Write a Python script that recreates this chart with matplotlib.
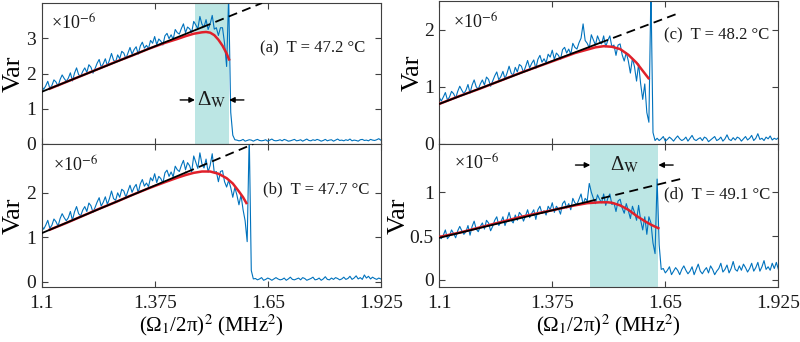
import matplotlib
matplotlib.use('Agg')
import matplotlib.pyplot as plt

plt.rcParams['font.family'] = ['Liberation Serif', 'DejaVu Serif']
plt.rcParams['mathtext.fontset'] = 'stix'

# ---------------
# Data
# ---------------

# sampling grid of the measured traces, (Omega_1/2pi)^2 in MHz^2
freq = [1.100, 1.105, 1.110, 1.115, 1.120, 1.125, 1.130, 1.135, 1.140, 1.145,
        1.150, 1.155, 1.160, 1.165, 1.170, 1.175, 1.180, 1.185, 1.190, 1.195,
        1.200, 1.205, 1.210, 1.215, 1.220, 1.225, 1.230, 1.235, 1.240, 1.245,
        1.250, 1.255, 1.260, 1.265, 1.270, 1.275, 1.280, 1.285, 1.290, 1.295,
        1.300, 1.305, 1.310, 1.315, 1.320, 1.325, 1.330, 1.335, 1.340, 1.345,
        1.350, 1.355, 1.360, 1.365, 1.370, 1.375, 1.380, 1.385, 1.390, 1.395,
        1.400, 1.405, 1.410, 1.415, 1.420, 1.425, 1.430, 1.435, 1.440, 1.445,
        1.450, 1.455, 1.460, 1.465, 1.470, 1.475, 1.480, 1.485, 1.490, 1.495,
        1.500, 1.505, 1.510, 1.515, 1.520, 1.525, 1.530, 1.535, 1.540, 1.545,
        1.550, 1.555, 1.560, 1.565, 1.570, 1.575, 1.580, 1.585, 1.590, 1.595,
        1.600, 1.605, 1.610, 1.615, 1.620, 1.625, 1.630, 1.635, 1.640, 1.645,
        1.650, 1.655, 1.660, 1.665, 1.670, 1.675, 1.680, 1.685, 1.690, 1.695,
        1.700, 1.705, 1.710, 1.715, 1.720, 1.725, 1.730, 1.735, 1.740, 1.745,
        1.750, 1.755, 1.760, 1.765, 1.770, 1.775, 1.780, 1.785, 1.790, 1.795,
        1.800, 1.805, 1.810, 1.815, 1.820, 1.825, 1.830, 1.835, 1.840, 1.845,
        1.850, 1.855, 1.860, 1.865, 1.870, 1.875, 1.880, 1.885, 1.890, 1.895,
        1.900, 1.905, 1.910, 1.915, 1.920, 1.925, 1.930, 1.935, 1.940, 1.945,
        1.950]

# measured variance (x1e-6)
var_a = [1.65, 1.55, 1.65, 1.78, 1.58, 1.66, 1.82, 1.76, 1.64, 1.83,
         1.96, 1.86, 1.78, 1.87, 2.02, 1.79, 2.01, 2.16, 1.97, 1.92,
         2.06, 2.16, 2.03, 2.25, 2.18, 2.01, 2.14, 2.29, 2.40, 2.18,
         2.28, 2.42, 2.22, 2.38, 2.57, 2.38, 2.33, 2.53, 2.42, 2.63,
         2.58, 2.42, 2.58, 2.74, 2.55, 2.68, 2.76, 2.55, 2.78, 2.89,
         2.72, 2.80, 2.71, 2.94, 2.86, 3.05, 2.82, 2.98, 2.92, 2.81,
         3.07, 3.14, 2.99, 3.10, 2.97, 3.25, 3.16, 3.12, 3.28, 3.41,
         3.16, 3.32, 3.27, 3.17, 3.48, 3.38, 3.27, 3.62, 3.40, 3.32,
         3.53, 3.25, 3.41, 3.65, 3.26, 3.30, 3.08, 3.30, 3.30, 2.85,
         2.20, 4.20, 0.90, 0.25, 0.12, 0.11, 0.09, 0.10, 0.13, 0.08,
         0.10, 0.12, 0.11, 0.08, 0.11, 0.13, 0.10, 0.09, 0.10, 0.12,
         0.08, 0.11, 0.14, 0.10, 0.09, 0.10, 0.12, 0.09, 0.13, 0.11,
         0.08, 0.09, 0.11, 0.13, 0.09, 0.10, 0.12, 0.08, 0.11, 0.14,
         0.10, 0.09, 0.12, 0.10, 0.13, 0.11, 0.08, 0.10, 0.13, 0.09,
         0.11, 0.12, 0.08, 0.11, 0.14, 0.10, 0.11, 0.09, 0.12, 0.10,
         0.14, 0.09, 0.11, 0.10, 0.08, 0.12, 0.13, 0.10, 0.11, 0.09,
         0.13, 0.11, 0.10, 0.12, 0.15, 0.11]

var_b = [1.27, 1.18, 1.27, 1.38, 1.20, 1.27, 1.41, 1.35, 1.25, 1.42,
         1.53, 1.44, 1.37, 1.44, 1.58, 1.38, 1.57, 1.69, 1.53, 1.48,
         1.61, 1.69, 1.58, 1.77, 1.71, 1.56, 1.67, 1.79, 1.89, 1.70,
         1.79, 1.91, 1.74, 1.87, 2.04, 1.87, 1.83, 2.00, 1.90, 2.08,
         2.04, 1.90, 2.04, 2.17, 2.01, 2.12, 2.19, 2.00, 2.20, 2.30,
         2.15, 2.22, 2.14, 2.34, 2.27, 2.43, 2.23, 2.37, 2.32, 2.22,
         2.45, 2.51, 2.37, 2.47, 2.36, 2.60, 2.52, 2.48, 2.62, 2.73,
         2.52, 2.68, 2.61, 2.47, 2.83, 2.69, 2.55, 2.90, 2.65, 2.56,
         2.76, 2.47, 2.62, 2.88, 2.45, 2.48, 2.25, 2.48, 2.50, 2.25,
         2.13, 2.28, 2.12, 1.90, 2.12, 1.95, 1.73, 1.95, 1.62, 1.37,
         0.90, 3.30, 0.25, 0.06, 0.07, 0.04, 0.06, 0.09, 0.03, 0.05,
         0.08, 0.06, 0.03, 0.06, 0.09, 0.06, 0.04, 0.05, 0.08, 0.03,
         0.06, 0.10, 0.05, 0.04, 0.06, 0.08, 0.04, 0.09, 0.07, 0.03,
         0.05, 0.07, 0.10, 0.04, 0.05, 0.08, 0.03, 0.06, 0.11, 0.05,
         0.04, 0.08, 0.05, 0.09, 0.07, 0.04, 0.06, 0.10, 0.05, 0.07,
         0.12, 0.05, 0.08, 0.13, 0.06, 0.09, 0.05, 0.15, 0.08, 0.12,
         0.06, 0.10, 0.07, 0.05, 0.08, 0.06]

var_c = [0.82, 0.75, 0.82, 0.90, 0.77, 0.82, 0.92, 0.88, 0.80, 0.92,
         1.01, 0.94, 0.88, 0.94, 1.04, 0.89, 1.03, 1.12, 1.00, 0.96,
         1.05, 1.12, 1.03, 1.17, 1.13, 1.01, 1.10, 1.19, 1.26, 1.12,
         1.18, 1.27, 1.14, 1.24, 1.36, 1.24, 1.20, 1.34, 1.26, 1.39,
         1.36, 1.25, 1.35, 1.46, 1.33, 1.41, 1.47, 1.32, 1.48, 1.55,
         1.43, 1.49, 1.42, 1.57, 1.52, 1.64, 1.48, 1.59, 1.55, 1.48,
         1.65, 1.69, 1.59, 1.66, 1.57, 1.76, 1.69, 1.66, 1.77, 1.85,
         2.10, 1.81, 1.76, 1.68, 1.91, 1.82, 1.73, 1.89, 1.80, 1.75,
         1.89, 1.70, 1.81, 1.89, 1.70, 1.73, 1.55, 1.73, 1.75, 1.56,
         1.45, 1.60, 1.45, 1.24, 1.50, 1.35, 1.10, 1.40, 1.05, 0.78,
         1.05, 0.55, 0.38, 2.70, 0.20, 0.06, 0.10, 0.06, 0.09, 0.13,
         0.05, 0.08, 0.12, 0.09, 0.05, 0.10, 0.14, 0.09, 0.06, 0.08,
         0.12, 0.05, 0.10, 0.15, 0.08, 0.06, 0.09, 0.11, 0.06, 0.12,
         0.10, 0.04, 0.07, 0.10, 0.13, 0.06, 0.08, 0.12, 0.05, 0.09,
         0.16, 0.08, 0.06, 0.11, 0.07, 0.12, 0.10, 0.05, 0.09, 0.13,
         0.07, 0.10, 0.15, 0.06, 0.10, 0.18, 0.08, 0.10, 0.06, 0.12,
         0.09, 0.14, 0.07, 0.10, 0.08, 0.11]

var_d = [0.52, 0.47, 0.51, 0.57, 0.47, 0.50, 0.57, 0.53, 0.48, 0.56,
         0.61, 0.56, 0.52, 0.55, 0.62, 0.51, 0.61, 0.67, 0.58, 0.55,
         0.61, 0.65, 0.58, 0.68, 0.65, 0.56, 0.61, 0.68, 0.72, 0.62,
         0.66, 0.72, 0.62, 0.69, 0.77, 0.68, 0.65, 0.74, 0.68, 0.77,
         0.74, 0.67, 0.73, 0.80, 0.71, 0.76, 0.80, 0.69, 0.80, 0.84,
         0.76, 0.79, 0.74, 0.84, 0.80, 0.88, 0.77, 0.84, 0.81, 0.75,
         0.87, 0.90, 0.82, 0.87, 0.80, 0.93, 0.88, 0.86, 0.92, 0.98,
         0.86, 0.93, 0.90, 1.10, 1.00, 0.93, 0.87, 0.97, 0.92, 0.88,
         0.98, 0.85, 0.93, 0.98, 0.86, 0.88, 0.78, 0.90, 0.92, 0.82,
         0.76, 0.87, 0.79, 0.70, 0.84, 0.77, 0.68, 0.85, 0.68, 0.57,
         0.72, 0.52, 0.72, 0.65, 0.42, 0.30, 1.15, 0.40, 0.12, 0.13,
         0.08, 0.11, 0.15, 0.06, 0.10, 0.14, 0.11, 0.06, 0.12, 0.16,
         0.11, 0.07, 0.10, 0.15, 0.06, 0.12, 0.18, 0.10, 0.07, 0.11,
         0.14, 0.08, 0.16, 0.12, 0.06, 0.10, 0.13, 0.19, 0.09, 0.12,
         0.17, 0.08, 0.13, 0.21, 0.12, 0.10, 0.16, 0.11, 0.18, 0.14,
         0.09, 0.13, 0.19, 0.10, 0.14, 0.20, 0.10, 0.15, 0.22, 0.12,
         0.15, 0.11, 0.19, 0.13, 0.20, 0.12]

# theory curves (red)
red_a_x = [1.12, 1.16, 1.20, 1.24, 1.28, 1.32, 1.36, 1.40, 1.43, 1.45,
           1.47, 1.49, 1.50, 1.51, 1.52, 1.53, 1.54, 1.55, 1.556]
red_a_y = [1.57, 1.76, 1.95, 2.14, 2.33, 2.51, 2.70, 2.87, 2.98, 3.06,
           3.13, 3.17, 3.18, 3.16, 3.09, 2.96, 2.79, 2.57, 2.40]
red_b_x = [1.12, 1.16, 1.20, 1.24, 1.28, 1.32, 1.36, 1.40, 1.43, 1.45,
           1.47, 1.49, 1.51, 1.53, 1.55, 1.565, 1.58, 1.59, 1.598]
red_b_y = [1.17, 1.32, 1.48, 1.64, 1.79, 1.95, 2.10, 2.24, 2.34, 2.40,
           2.45, 2.48, 2.48, 2.43, 2.33, 2.21, 2.03, 1.90, 1.77]
red_c_x = [1.10, 1.15, 1.20, 1.25, 1.30, 1.35, 1.40, 1.43, 1.46, 1.48,
           1.50, 1.52, 1.54, 1.56, 1.58, 1.595, 1.609]
red_c_y = [0.70, 0.84, 0.97, 1.11, 1.25, 1.38, 1.51, 1.59, 1.65, 1.69,
           1.71, 1.70, 1.66, 1.56, 1.42, 1.28, 1.15]
red_d_x = [1.10, 1.15, 1.20, 1.25, 1.30, 1.35, 1.40, 1.43, 1.46, 1.49,
           1.51, 1.52, 1.54, 1.56, 1.58, 1.60, 1.615, 1.633]
red_d_y = [0.49, 0.54, 0.60, 0.66, 0.72, 0.77, 0.82, 0.85, 0.875, 0.885,
           0.885, 0.88, 0.85, 0.80, 0.73, 0.67, 0.63, 0.59]

# linear fits: start, end of solid part, end of dashed extension
fit_a_x, fit_a_y = [1.1, 1.49, 1.636], [1.48, 3.31, 4.0]
fit_b_x, fit_b_y = [1.1, 1.45, 1.615], [1.09, 2.455, 3.10]
fit_c_x, fit_c_y = [1.1, 1.49, 1.687], [0.70, 1.765, 2.30]
fit_d_x, fit_d_y = [1.1, 1.46, 1.695], [0.48, 0.89, 1.16]

# width Delta_W of the shaded window
window_a = [1.473, 1.556]
window_d = [1.4675, 1.633]

labels = ['(a)  T = 47.2 \u00b0C', '(b)  T = 47.7 \u00b0C',
          '(c)  T = 48.2 \u00b0C', '(d)  T = 49.1 \u00b0C']
xticks = [1.1, 1.375, 1.65, 1.925]
xtick_labels = ['1.1', '1.375', '1.65', '1.925']

# ----------------

blue = '#0072BD'
red = '#E0202A'
shade = '#BCE6E4'
axcol = '#404040'

fig = plt.figure(figsize=(8.0, 3.42), dpi=100)

panels = [
    # rect, trace, red, fit, ylim, yticks, ticklabels, label pos, x10 pos
    ([0.052, 0.579, 0.424, 0.412], var_a, (red_a_x, red_a_y), (fit_a_x, fit_a_y),
     (0, 4.0), [0, 1, 2, 3], ['0', '1', '2', '3'], (0.643, 0.68), (0.029, 0.85)),
    ([0.052, 0.161, 0.424, 0.418], var_b, (red_b_x, red_b_y), (fit_b_x, fit_b_y),
     (-0.12, 3.1), [0, 1, 2], ['0', '1', '2'], (0.653, 0.68), (0.034, 0.85)),
    ([0.549, 0.579, 0.424, 0.418], var_c, (red_c_x, red_c_y), (fit_c_x, fit_c_y),
     (0, 2.5), [0, 1, 2], ['0', '1', '2'], (0.662, 0.76), (0.042, 0.85)),
    ([0.549, 0.161, 0.424, 0.418], var_d, (red_d_x, red_d_y), (fit_d_x, fit_d_y),
     (-0.08, 1.55), [0, 0.5, 1], ['0', '0.5', '1'], (0.662, 0.65), (0.044, 0.86)),
]

axes = []
for k, (rect, trace, rc, fit, ylim, yt, ytl, lpos, mpos) in enumerate(panels):
    ax = fig.add_axes(rect)
    axes.append(ax)
    ax.plot(freq[:len(trace)], trace, color=blue, lw=0.8, zorder=2)
    ax.plot(rc[0], rc[1], color=red, lw=1.8, zorder=3)
    fx, fy = fit
    ax.plot(fx[:2], fy[:2], color='black', lw=1.3, zorder=4)
    ax.plot(fx[1:], fy[1:], color='black', lw=1.3, dashes=(5, 3), zorder=4)

    ax.set_xlim(1.1, 1.925)
    ax.set_ylim(*ylim)
    ax.set_xticks(xticks)
    ax.set_yticks(yt)
    ax.set_yticklabels(ytl)
    if k in (1, 3):
        ax.set_xticklabels(xtick_labels)
        ax.set_xlabel('(\u03a9$_1$/2\u03c0)$^2$ (MHz$^2$)', fontsize=15, labelpad=0)
    else:
        ax.set_xticklabels([])
    ax.set_ylabel('Var', fontsize=19, labelpad=1 if k < 2 else 0)
    ax.tick_params(direction='in', length=4, width=0.8, top=True, right=True,
                   labelsize=14, colors=axcol, labelcolor='#1a1a1a', pad=4)
    ax.tick_params(axis='x', pad=6)
    for s in ax.spines.values():
        s.set_color(axcol)
        s.set_linewidth(0.8)

    ax.text(lpos[0], lpos[1], labels[k], transform=ax.transAxes,
            fontsize=12, va='center', ha='left', color='#1a1a1a')
    ax.text(mpos[0], mpos[1], '\u00d710$^{-6}$', transform=ax.transAxes,
            fontsize=13, va='center', ha='left', color='#1a1a1a')

# shaded windows and Delta_W markers
ax_a, ax_d = axes[0], axes[3]
arrow = dict(arrowstyle='-|>', color='black', lw=1.0, mutation_scale=8,
             shrinkA=0, shrinkB=0)
for ax, win, yarr in ((ax_a, window_a, 1.25), (ax_d, window_d, 1.31)):
    ax.axvspan(win[0], win[1], color=shade, lw=0, zorder=1)
    ax.annotate('', xy=(win[0], yarr), xytext=(win[0] - 0.036, yarr),
                arrowprops=arrow)
    ax.annotate('', xy=(win[1], yarr), xytext=(win[1] + 0.036, yarr),
                arrowprops=arrow)
    ax.text((win[0] + win[1]) / 2, yarr, '\u0394$_{\\mathrm{W}}$', fontsize=15,
            ha='center', va='center', color='#1a1a1a')

fig.savefig('out.png', dpi=100)
